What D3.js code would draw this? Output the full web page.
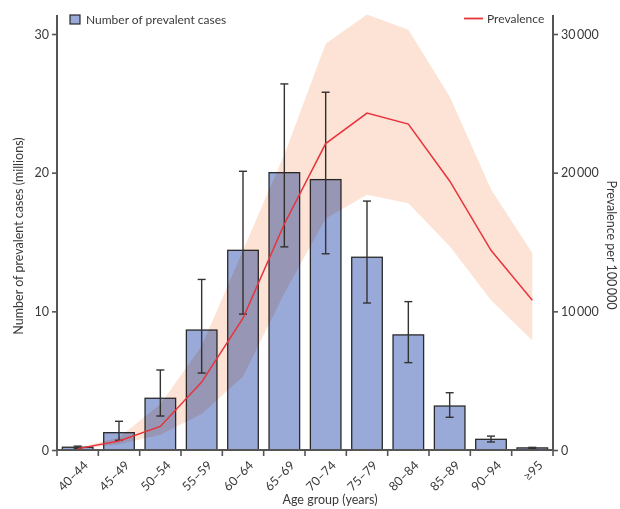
<!DOCTYPE html>
<html>
<head>
<meta charset="utf-8">
<script src="https://cdn.jsdelivr.net/npm/d3@7"></script>
<style>
  body { margin: 0; background: #fff; }
  svg text { font-family: Lato, "DejaVu Sans", sans-serif; fill: #3a3a3a; }
</style>
</head>
<body>
<svg id="chart" width="620" height="509"></svg>
<script>
var ages = ["40\u201344", "45\u201349", "50\u201354", "55\u201359", "60\u201364", "65\u201369",
            "70\u201374", "75\u201379", "80\u201384", "85\u201389", "90\u201394", "\u226595"];
// number of prevalent cases (millions) with uncertainty
var cases     = [0.2, 1.25, 3.73, 8.65, 14.4, 20.0, 19.5, 13.9, 8.3, 3.17, 0.77, 0.15];
var casesLow  = [0.12, 0.7, 2.45, 5.55, 9.8, 14.65, 14.15, 10.6, 6.3, 2.36, 0.58, 0.1];
var casesHigh = [0.28, 2.07, 5.77, 12.3, 20.1, 26.4, 25.8, 17.95, 10.7, 4.13, 1.0, 0.19];
// prevalence per 100 000 with uncertainty
var prev     = [100, 650, 1700, 4900, 9500, 16300, 22100, 24300, 23500, 19400, 14400, 10800];
var prevLow  = [50, 420, 1100, 2600, 5300, 11300, 16700, 18400, 17800, 14700, 10800, 7900];
var prevHigh = [150, 900, 3300, 7500, 14400, 21300, 29300, 31400, 30300, 25500, 18800, 14200];

var leftTicks = [0, 10, 20, 30];
var rightTicks = [0, 10000, 20000, 30000];

var svg = d3.select("#chart");
var x0 = 57, x1 = 553, yBase = 450, yTop = 15;

var x = d3.scaleBand().domain(ages).range([x0, x1]).paddingInner(0.26).paddingOuter(0.13);
var yL = d3.scaleLinear().domain([0, 30]).range([yBase, 34]);
var yR = d3.scaleLinear().domain([0, 30000]).range([yBase, 34]);
var cx = function(d) { return x(d) + x.bandwidth() / 2; };

// bars
svg.append("g").selectAll("rect").data(ages).enter().append("rect")
    .attr("x", function(d) { return x(d); })
    .attr("width", x.bandwidth())
    .attr("y", function(d, i) { return yL(cases[i]); })
    .attr("height", function(d, i) { return yBase - yL(cases[i]); })
    .attr("fill", "#99a9d8")
    .attr("stroke", "#2a2a2a")
    .attr("stroke-width", 1.3);

// error bars
var eb = svg.append("g").attr("stroke", "#333").attr("stroke-width", 1.4);
ages.forEach(function(d, i) {
    var c = cx(d);
    eb.append("line").attr("x1", c).attr("x2", c).attr("y1", yL(casesLow[i])).attr("y2", yL(casesHigh[i]));
    eb.append("line").attr("x1", c - 4).attr("x2", c + 4).attr("y1", yL(casesLow[i])).attr("y2", yL(casesLow[i]));
    eb.append("line").attr("x1", c - 4).attr("x2", c + 4).attr("y1", yL(casesHigh[i])).attr("y2", yL(casesHigh[i]));
});

// uncertainty band
var area = d3.area()
    .x(function(d) { return cx(d); })
    .y0(function(d, i) { return yR(prevLow[i]); })
    .y1(function(d, i) { return yR(prevHigh[i]); });
svg.append("path").datum(ages)
    .attr("d", area)
    .attr("fill", "#fce3d6")
    .style("mix-blend-mode", "multiply");

// prevalence line
var line = d3.line()
    .x(function(d) { return cx(d); })
    .y(function(d, i) { return yR(prev[i]); });
svg.append("path").datum(ages)
    .attr("d", line)
    .attr("fill", "none")
    .attr("stroke", "#e8333b")
    .attr("stroke-width", 1.5);

// axes
var axisColor = "#555";
var gL = svg.append("g").attr("transform", "translate(" + x0 + ",0)")
    .call(d3.axisLeft(yL).tickValues(leftTicks).tickSize(5).tickPadding(3));
var gR = svg.append("g").attr("transform", "translate(" + x1 + ",0)")
    .call(d3.axisRight(yR).tickValues(rightTicks).tickSize(5).tickPadding(3)
        .tickFormat(function(d) { return d3.format(",")(d).replace(",", "\u2009"); }));
[gL, gR].forEach(function(g) {
    g.select(".domain").remove();
    g.selectAll(".tick line").attr("stroke", axisColor).attr("stroke-width", 1.6);
    g.selectAll(".tick text").style("font-size", "12.5px").attr("fill", "#3a3a3a");
});
svg.append("line").attr("x1", x0).attr("x2", x0).attr("y1", yBase + 1).attr("y2", yTop)
    .attr("stroke", axisColor).attr("stroke-width", 2);
svg.append("line").attr("x1", x1).attr("x2", x1).attr("y1", yBase + 1).attr("y2", yTop)
    .attr("stroke", axisColor).attr("stroke-width", 2);
svg.append("line").attr("x1", x0).attr("x2", x1).attr("y1", yBase).attr("y2", yBase)
    .attr("stroke", axisColor).attr("stroke-width", 2);

// x ticks at band boundaries
var step = x.step();
var bounds = ages.map(function(d) { return cx(d) - step / 2; }).concat([x1]);
svg.append("g").selectAll("line").data(bounds).enter().append("line")
    .attr("x1", function(d) { return d; }).attr("x2", function(d) { return d; })
    .attr("y1", yBase).attr("y2", yBase + 6)
    .attr("stroke", axisColor).attr("stroke-width", 1.6);

// x labels
svg.append("g").selectAll("text").data(ages).enter().append("text")
    .attr("transform", function(d) { return "translate(" + (cx(d) + 5) + "," + (yBase + 10) + ") rotate(-45)"; })
    .attr("text-anchor", "end")
    .attr("dy", "0.7em")
    .style("font-size", "12.5px")
    .text(function(d) { return d; });

// axis titles
svg.append("text").attr("x", 330).attr("y", 504).attr("text-anchor", "middle")
    .style("font-size", "12.5px").text("Age group (years)");
svg.append("text").attr("transform", "translate(23,236) rotate(-90)").attr("text-anchor", "middle")
    .style("font-size", "12.5px").text("Number of prevalent cases (millions)");
svg.append("text").attr("transform", "translate(607,245) rotate(90)").attr("text-anchor", "middle")
    .style("font-size", "12.5px").text("Prevalence per 100\u2009000");

// legend
svg.append("rect").attr("x", 70).attr("y", 15).attr("width", 10).attr("height", 9)
    .attr("fill", "#99a9d8").attr("stroke", "#2a2a2a").attr("stroke-width", 1.2);
svg.append("text").attr("x", 86).attr("y", 24).style("font-size", "12px").text("Number of prevalent cases");
svg.append("line").attr("x1", 464).attr("x2", 483).attr("y1", 18.5).attr("y2", 18.5)
    .attr("stroke", "#e8333b").attr("stroke-width", 1.8);
svg.append("text").attr("x", 487).attr("y", 23).style("font-size", "12px").text("Prevalence");
</script>
</body>
</html>
